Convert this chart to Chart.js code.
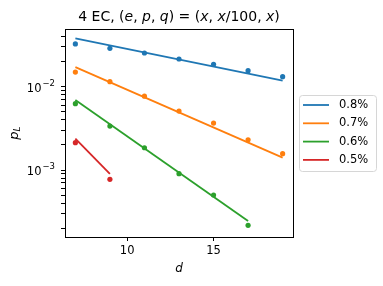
<!DOCTYPE html>
<html>
<head>
<meta charset="utf-8">
<script src="https://cdn.jsdelivr.net/npm/chart.js@4.4.1/dist/chart.umd.min.js"></script>
<style>
  html, body { margin: 0; padding: 0; background: #fff; }
  #wrap { width: 383px; height: 286px; }
</style>
</head>
<body>
<div id="wrap"><canvas id="grafico" width="383" height="286"></canvas></div>
<script>
// Datos
const distancias = [7, 9, 11, 13, 15, 17, 19];
const etiquetas = ["0.8%", "0.7%", "0.6%", "0.5%"];
const colores = ["#1f77b4", "#ff7f0e", "#2ca02c", "#d62728"];

const pL08 = [0.0326, 0.0289, 0.0254, 0.0215, 0.0186, 0.0156, 0.0132];
const pL07 = [0.0150, 0.0115, 0.0077, 0.0051, 0.00366, 0.00231, 0.00157];
const pL06 = [0.00625, 0.00337, 0.00185, 0.000903, 0.000501, 0.000217];
const pL05 = [0.00213, 0.000773];

// Rectas de ajuste (extremos)
const ajusteD08 = [7, 19], ajusteP08 = [0.0381, 0.0118];
const ajusteD07 = [7, 19], ajusteP07 = [0.0172, 0.00141];
const ajusteD06 = [7, 17], ajusteP06 = [0.00692, 0.000244];
const ajusteD05 = [7, 9], ajusteP05 = [0.00238, 0.000896];

const xTicks = [10, 15];
const yTicksMayores = [1e-3, 1e-2];
const yExponentes = ["\u22123", "\u22122"];

const FUENTE = "DejaVu Sans";

const puntos = [pL08, pL07, pL06, pL05];
const ajustesD = [ajusteD08, ajusteD07, ajusteD06, ajusteD05];
const ajustesP = [ajusteP08, ajusteP07, ajusteP06, ajusteP05];

const datasets = [];
etiquetas.forEach((et, i) => {
  datasets.push({
    label: et,
    data: ajustesD[i].map((d, k) => ({ x: d, y: ajustesP[i][k] })),
    showLine: true,
    borderColor: colores[i],
    backgroundColor: colores[i],
    borderWidth: 1.8,
    pointRadius: 0,
  });
  datasets.push({
    label: et + " puntos",
    data: puntos[i].map((p, k) => ({ x: distancias[k], y: p })),
    showLine: false,
    borderColor: colores[i],
    backgroundColor: colores[i],
    pointRadius: 2.6,
    pointBorderWidth: 0,
  });
});

// Texto con partes en cursiva
function textoMixto(ctx, partes, x, y, tam) {
  let ancho = 0;
  partes.forEach((p) => {
    ctx.font = (p[1] ? "italic " : "") + tam + "px '" + FUENTE + "'";
    ancho += ctx.measureText(p[0]).width;
  });
  let cx = x - ancho / 2;
  ctx.textAlign = "left";
  ctx.textBaseline = "middle";
  partes.forEach((p) => {
    ctx.font = (p[1] ? "italic " : "") + tam + "px '" + FUENTE + "'";
    ctx.fillText(p[0], cx, y);
    cx += ctx.measureText(p[0]).width;
  });
}

const decoracion = {
  id: "decoracion",
  afterDraw(chart) {
    const ctx = chart.ctx;
    const a = chart.chartArea;
    ctx.save();
    // marco
    ctx.strokeStyle = "#000";
    ctx.lineWidth = 1;
    ctx.strokeRect(Math.round(a.left) + 0.5, Math.round(a.top) + 0.5,
      Math.round(a.right - a.left), Math.round(a.bottom - a.top));

    ctx.fillStyle = "#000";
    // título
    const cx = (a.left + a.right) / 2;
    textoMixto(ctx, [
      ["4 EC, (", false], ["e", true], [", ", false], ["p", true], [", ", false],
      ["q", true], [") = (", false], ["x", true], [", ", false], ["x", true],
      ["/100, ", false], ["x", true], [")", false],
    ], cx, 17, 14);

    // etiqueta eje x
    textoMixto(ctx, [["d", true]], cx, 269, 12);

    // etiquetas del eje y (10 con exponente)
    const ejeY = chart.scales.y;
    yTicksMayores.forEach((v, i) => {
      const py = ejeY.getPixelForValue(v);
      const derecha = a.left - 10;
      ctx.textAlign = "right";
      ctx.textBaseline = "middle";
      ctx.font = "8.5px '" + FUENTE + "'";
      const we = ctx.measureText(yExponentes[i]).width;
      ctx.fillText(yExponentes[i], derecha, py - 3);
      ctx.font = "11.5px '" + FUENTE + "'";
      ctx.fillText("10", derecha - we - 1, py + 2);
    });

    // etiqueta eje y
    ctx.save();
    ctx.translate(15, (a.top + a.bottom) / 2);
    ctx.rotate(-Math.PI / 2);
    ctx.font = "italic 13px '" + FUENTE + "'";
    ctx.textAlign = "left";
    ctx.textBaseline = "middle";
    const wp = ctx.measureText("p").width;
    ctx.font = "italic 9px '" + FUENTE + "'";
    const wl = ctx.measureText("L").width;
    let x0 = -(wp + wl) / 2;
    ctx.font = "italic 13px '" + FUENTE + "'";
    ctx.fillText("p", x0, 0);
    ctx.font = "italic 9px '" + FUENTE + "'";
    ctx.fillText("L", x0 + wp, 3);
    ctx.restore();

    // leyenda
    const lx = 299.5, ly = 95.5, lw = 77, lh = 76;
    ctx.beginPath();
    ctx.roundRect(lx, ly, lw, lh, 3);
    ctx.fillStyle = "rgba(255,255,255,0.8)";
    ctx.fill();
    ctx.strokeStyle = "#d6d6d6";
    ctx.lineWidth = 1;
    ctx.stroke();
    etiquetas.forEach((et, i) => {
      const y = 105 + i * 18.3;
      ctx.strokeStyle = colores[i];
      ctx.lineWidth = 1.8;
      ctx.beginPath();
      ctx.moveTo(303, y);
      ctx.lineTo(329, y);
      ctx.stroke();
      ctx.fillStyle = "#000";
      ctx.font = "11.5px '" + FUENTE + "'";
      ctx.textAlign = "left";
      ctx.textBaseline = "middle";
      ctx.fillText(et, 339, y);
    });
    ctx.restore();
  },
};

new Chart(document.getElementById("grafico").getContext("2d"), {
  type: "scatter",
  data: { datasets: datasets },
  options: {
    responsive: false,
    animation: false,
    events: [],
    layout: { padding: { top: 29, right: 90, bottom: 0, left: 0 } },
    plugins: {
      legend: { display: false },
      title: { display: false },
      tooltip: { enabled: false },
    },
    scales: {
      x: {
        type: "linear",
        min: 6.4,
        max: 19.6,
        afterBuildTicks: (scale) => {
          scale.ticks = xTicks.map((v) => ({ value: v }));
        },
        afterFit: (scale) => { scale.height = 49; },
        grid: { drawOnChartArea: false, drawTicks: true, tickLength: 4, color: "#000" },
        border: { display: false },
        ticks: {
          color: "#000",
          padding: 3,
          maxRotation: 0,
          font: { family: FUENTE, size: 11.5 },
          callback: (v) => String(v),
        },
      },
      y: {
        type: "logarithmic",
        min: 1.57e-4,
        max: 0.0493,
        afterBuildTicks: (scale) => {
          const lista = [];
          [1e-4, 1e-3, 1e-2].forEach((dec) => {
            for (let m = 1; m <= 9; m++) {
              const v = parseFloat((m * dec).toPrecision(3));
              if (v > scale.min && v < scale.max) lista.push({ value: v });
            }
          });
          scale.ticks = lista;
        },
        afterFit: (scale) => { scale.width = 65; },
        grid: { drawOnChartArea: false, drawTicks: true, tickLength: 4, color: "#000" },
        border: { display: false },
        ticks: {
          display: true,
          autoSkip: false,
          callback: () => "",
        },
      },
    },
  },
  plugins: [decoracion],
});
</script>
</body>
</html>
